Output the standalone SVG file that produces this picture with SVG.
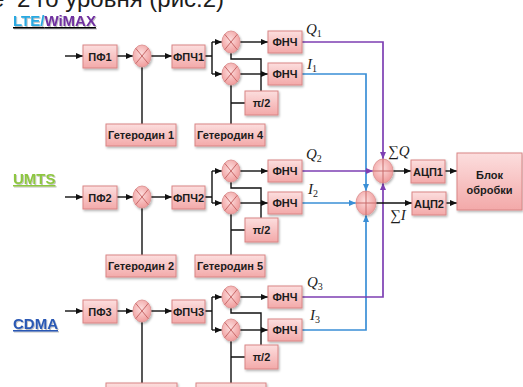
<svg xmlns="http://www.w3.org/2000/svg" width="523" height="387" viewBox="0 0 523 387">
  <defs>
    <linearGradient id="boxFill" x1="0" y1="0" x2="0" y2="1">
      <stop offset="0" stop-color="#fcdede"/>
      <stop offset="1" stop-color="#f3a9a9"/>
    </linearGradient>
    <radialGradient id="ballFill" cx="0.45" cy="0.4" r="0.6">
      <stop offset="0" stop-color="#fcdede"/>
      <stop offset="1" stop-color="#f09c9c"/>
    </radialGradient>
    <filter id="shadow" x="-20%" y="-20%" width="150%" height="160%">
      <feDropShadow dx="1" dy="1.5" stdDeviation="0.8" flood-color="#000" flood-opacity="0.3"/>
    </filter>
    <filter id="tshadow" x="-10%" y="-20%" width="130%" height="160%">
      <feDropShadow dx="1" dy="1" stdDeviation="0.5" flood-color="#000" flood-opacity="0.25"/>
    </filter>
    <marker id="ak" markerUnits="userSpaceOnUse" markerWidth="7" markerHeight="6" refX="7" refY="3" orient="auto">
      <path d="M0,0 L7,3 L0,6 z" fill="#111"/>
    </marker>
    <marker id="ap" markerUnits="userSpaceOnUse" markerWidth="7" markerHeight="6" refX="7" refY="3" orient="auto">
      <path d="M0,0 L7,3 L0,6 z" fill="#7d3fb3"/>
    </marker>
    <marker id="ab" markerUnits="userSpaceOnUse" markerWidth="7" markerHeight="6" refX="7" refY="3" orient="auto">
      <path d="M0,0 L7,3 L0,6 z" fill="#3a8fd6"/>
    </marker>
  </defs>
  <style>
    .box { fill: url(#boxFill); stroke: #d98585; stroke-width: 1; filter: url(#shadow); }
    .ball { fill: url(#ballFill); stroke: #e09a9a; stroke-width: 1; filter: url(#shadow); }
    .cross { stroke: #c86a6a; stroke-width: 1; fill: none; }
    .lbl { font-family: "Liberation Sans", Arial, sans-serif; font-weight: bold; font-size: 11px; fill: #1c1c1c; text-anchor: middle; }
    .w { stroke: #111; stroke-width: 1.4; fill: none; }
    .wa { stroke: #111; stroke-width: 1.4; fill: none; marker-end: url(#ak); }
    .pu { stroke: #7d3fb3; stroke-width: 1.7; fill: none; }
    .bl { stroke: #3a8fd6; stroke-width: 1.7; fill: none; }
    .sig { font-family: "Liberation Serif", "Times New Roman", serif; font-style: italic; font-size: 15px; fill: #1c1c1c; }
    .sub { font-style: normal; font-size: 10px; }
    .std { font-family: "Liberation Sans", Arial, sans-serif; font-weight: bold; font-size: 15px; text-decoration: underline; filter: url(#tshadow); }
  </style>

  <rect width="523" height="387" fill="#ffffff"/>

  <!-- heading line running off the top edge -->
  <text x="-9" y="7" font-family="Liberation Sans, Arial, sans-serif" font-size="24" fill="#1c1c1c">е<tspan x="17">2 го уровня (рис.2)</tspan></text>

  <!-- standard names -->
  <g id="std-lte">
    <text class="std" x="13" y="26"><tspan fill="#29a9e1">LTE/</tspan><tspan fill="#7030a0">WiMAX</tspan></text>
  </g>
  <g id="std-umts">
    <text class="std" x="13" y="184" fill="#8dc63f">UMTS</text>
  </g>
  <g id="std-cdma">
    <text class="std" x="13" y="329" fill="#2a59b4">CDMA</text>
  </g>

  <!-- connectors -->
  <g id="connectors">
    <!-- row 1 -->
    <path class="wa" d="M65,56 H83"/>
    <path class="wa" d="M117,56 H133"/>
    <path class="wa" d="M151,56 H172"/>
    <path class="w" d="M205,56 H212 M212,42 V74"/>
    <path class="wa" d="M212,42 H222"/>
    <path class="wa" d="M212,74 H222"/>
    <path class="wa" d="M240,42 H268"/>
    <path class="w" d="M142,67 V124"/>
    <path class="w" d="M231,53 V59 H261 V91"/>
    <path class="w" d="M231,85 V124 M231,103 H245"/>
    <path class="wa" d="M240,74 H268"/>

    <!-- row 2 -->
    <path class="wa" d="M65,197 H83"/>
    <path class="wa" d="M117,197 H133"/>
    <path class="wa" d="M151,197 H172"/>
    <path class="w" d="M205,197 H212 M212,171 V203"/>
    <path class="wa" d="M212,171 H222"/>
    <path class="wa" d="M212,203 H222"/>
    <path class="wa" d="M240,171 H268"/>
    <path class="w" d="M142,208 V255"/>
    <path class="w" d="M231,182 V188 H261 V218"/>
    <path class="w" d="M231,214 V255 M231,230 H245"/>
    <path class="wa" d="M240,203 H268"/>

    <!-- row 3 -->
    <path class="wa" d="M65,311 H83"/>
    <path class="wa" d="M117,311 H133"/>
    <path class="wa" d="M151,311 H172"/>
    <path class="w" d="M205,311 H212 M212,297 V330"/>
    <path class="wa" d="M212,297 H222"/>
    <path class="wa" d="M212,330 H222"/>
    <path class="wa" d="M240,297 H268"/>
    <path class="w" d="M142,322 V383"/>
    <path class="w" d="M231,308 V313 H261 V345"/>
    <path class="w" d="M231,341 V383 M231,357 H245"/>
    <path class="wa" d="M240,330 H268"/>

    <!-- quadrature buses -->
    <path class="bl" d="M302,74 H366 V191" marker-end="url(#ab)"/>
    <path class="bl" d="M302,330 H366 V215" marker-end="url(#ab)"/>
    <path class="bl" d="M302,203 H356" marker-end="url(#ab)"/>
    <path class="pu" d="M302,42 H383 V159" marker-end="url(#ap)"/>
    <path class="pu" d="M302,297 H383 V183" marker-end="url(#ap)"/>
    <path class="pu" d="M302,171 H373" marker-end="url(#ap)"/>

    <!-- outputs -->
    <path class="wa" d="M393,171 H411"/>
    <path class="wa" d="M376,203 H412"/>
    <path class="wa" d="M445,171 H457"/>
    <path class="wa" d="M446,203 H457"/>
  </g>

  <!-- row 1 blocks -->
  <g id="pf1"><rect class="box" x="83" y="45" width="34" height="23"/><text class="lbl" x="100" y="60.5">ПФ1</text></g>
  <g id="mix1"><ellipse class="ball" cx="142" cy="56" rx="9" ry="11"/><path class="cross" d="M135.6,48.2 L148.4,63.8 M148.4,48.2 L135.6,63.8"/></g>
  <g id="fpch1"><rect class="box" x="172" y="45" width="33" height="23"/><text class="lbl" x="188.5" y="60.5">ФПЧ1</text></g>
  <g id="mix1q"><ellipse class="ball" cx="231" cy="42" rx="9" ry="11"/><path class="cross" d="M224.6,34.2 L237.4,49.8 M237.4,34.2 L224.6,49.8"/></g>
  <g id="mix1i"><ellipse class="ball" cx="231" cy="74" rx="9" ry="11"/><path class="cross" d="M224.6,66.2 L237.4,81.8 M237.4,66.2 L224.6,81.8"/></g>
  <g id="lpf1q"><rect class="box" x="268" y="31" width="34" height="22"/><text class="lbl" x="285" y="46">ФНЧ</text></g>
  <g id="lpf1i"><rect class="box" x="268" y="63" width="34" height="22"/><text class="lbl" x="285" y="78">ФНЧ</text></g>
  <g id="ph1"><rect class="box" x="245" y="91" width="33" height="24"/><text class="lbl" x="261.5" y="107">π/2</text></g>
  <g id="lo1"><rect class="box" x="106" y="124" width="70" height="22"/><text class="lbl" x="141" y="139">Гетеродин 1</text></g>
  <g id="lo4"><rect class="box" x="195" y="124" width="70" height="22"/><text class="lbl" x="230" y="139">Гетеродин 4</text></g>

  <!-- row 2 blocks -->
  <g id="pf2"><rect class="box" x="83" y="186" width="34" height="23"/><text class="lbl" x="100" y="201.5">ПФ2</text></g>
  <g id="mix2"><ellipse class="ball" cx="142" cy="197" rx="9" ry="11"/><path class="cross" d="M135.6,189.2 L148.4,204.8 M148.4,189.2 L135.6,204.8"/></g>
  <g id="fpch2"><rect class="box" x="172" y="186" width="33" height="23"/><text class="lbl" x="188.5" y="201.5">ФПЧ2</text></g>
  <g id="mix2q"><ellipse class="ball" cx="231" cy="171" rx="9" ry="11"/><path class="cross" d="M224.6,163.2 L237.4,178.8 M237.4,163.2 L224.6,178.8"/></g>
  <g id="mix2i"><ellipse class="ball" cx="231" cy="203" rx="9" ry="11"/><path class="cross" d="M224.6,195.2 L237.4,210.8 M237.4,195.2 L224.6,210.8"/></g>
  <g id="lpf2q"><rect class="box" x="268" y="160" width="34" height="22"/><text class="lbl" x="285" y="175">ФНЧ</text></g>
  <g id="lpf2i"><rect class="box" x="268" y="192" width="34" height="22"/><text class="lbl" x="285" y="207">ФНЧ</text></g>
  <g id="ph2"><rect class="box" x="245" y="218" width="33" height="24"/><text class="lbl" x="261.5" y="234">π/2</text></g>
  <g id="lo2"><rect class="box" x="106" y="255" width="70" height="22"/><text class="lbl" x="141" y="270">Гетеродин 2</text></g>
  <g id="lo5"><rect class="box" x="195" y="255" width="70" height="22"/><text class="lbl" x="230" y="270">Гетеродин 5</text></g>

  <!-- row 3 blocks -->
  <g id="pf3"><rect class="box" x="83" y="300" width="34" height="23"/><text class="lbl" x="100" y="315.5">ПФ3</text></g>
  <g id="mix3"><ellipse class="ball" cx="142" cy="311" rx="9" ry="11"/><path class="cross" d="M135.6,303.2 L148.4,318.8 M148.4,303.2 L135.6,318.8"/></g>
  <g id="fpch3"><rect class="box" x="172" y="300" width="33" height="23"/><text class="lbl" x="188.5" y="315.5">ФПЧ3</text></g>
  <g id="mix3q"><ellipse class="ball" cx="231" cy="297" rx="9" ry="11"/><path class="cross" d="M224.6,289.2 L237.4,304.8 M237.4,289.2 L224.6,304.8"/></g>
  <g id="mix3i"><ellipse class="ball" cx="231" cy="330" rx="9" ry="11"/><path class="cross" d="M224.6,322.2 L237.4,337.8 M237.4,322.2 L224.6,337.8"/></g>
  <g id="lpf3q"><rect class="box" x="268" y="286" width="34" height="22"/><text class="lbl" x="285" y="301">ФНЧ</text></g>
  <g id="lpf3i"><rect class="box" x="268" y="319" width="34" height="22"/><text class="lbl" x="285" y="334">ФНЧ</text></g>
  <g id="ph3"><rect class="box" x="245" y="345" width="33" height="24"/><text class="lbl" x="261.5" y="361">π/2</text></g>
  <g id="lo3"><rect class="box" x="106" y="383" width="71" height="22"/></g>
  <g id="lo6"><rect class="box" x="196" y="383" width="70" height="22"/></g>

  <!-- summing and output stage -->
  <g id="sumq"><ellipse class="ball" cx="383" cy="171" rx="10" ry="12"/><path class="cross" d="M373,171 H393 M383,159 V183"/></g>
  <g id="sumi"><ellipse class="ball" cx="366" cy="203" rx="10" ry="12"/><path class="cross" d="M356,203 H376 M366,191 V215"/></g>
  <g id="adc1"><rect class="box" x="411" y="160" width="34" height="23"/><text class="lbl" x="428" y="175.5">АЦП1</text></g>
  <g id="adc2"><rect class="box" x="412" y="192" width="34" height="23"/><text class="lbl" x="429" y="207.5">АЦП2</text></g>
  <g id="proc"><rect class="box" x="457" y="153" width="65" height="57"/><text class="lbl" x="489.5" y="179" font-size="12">Блок</text><text class="lbl" x="489.5" y="194" font-size="12">обробки</text></g>

  <!-- signal names -->
  <g id="labels">
    <text class="sig" x="306" y="34">Q<tspan class="sub" dy="3">1</tspan></text>
    <text class="sig" x="307" y="69">I<tspan class="sub" dy="3">1</tspan></text>
    <text class="sig" x="306" y="159">Q<tspan class="sub" dy="3">2</tspan></text>
    <text class="sig" x="308" y="194">I<tspan class="sub" dy="3">2</tspan></text>
    <text class="sig" x="307" y="287">Q<tspan class="sub" dy="3">3</tspan></text>
    <text class="sig" x="310" y="320">I<tspan class="sub" dy="3">3</tspan></text>
    <text class="sig" x="388" y="156"><tspan font-style="normal">∑</tspan>Q</text>
    <text class="sig" x="390" y="220"><tspan font-style="normal">∑</tspan>I</text>
  </g>
</svg>
